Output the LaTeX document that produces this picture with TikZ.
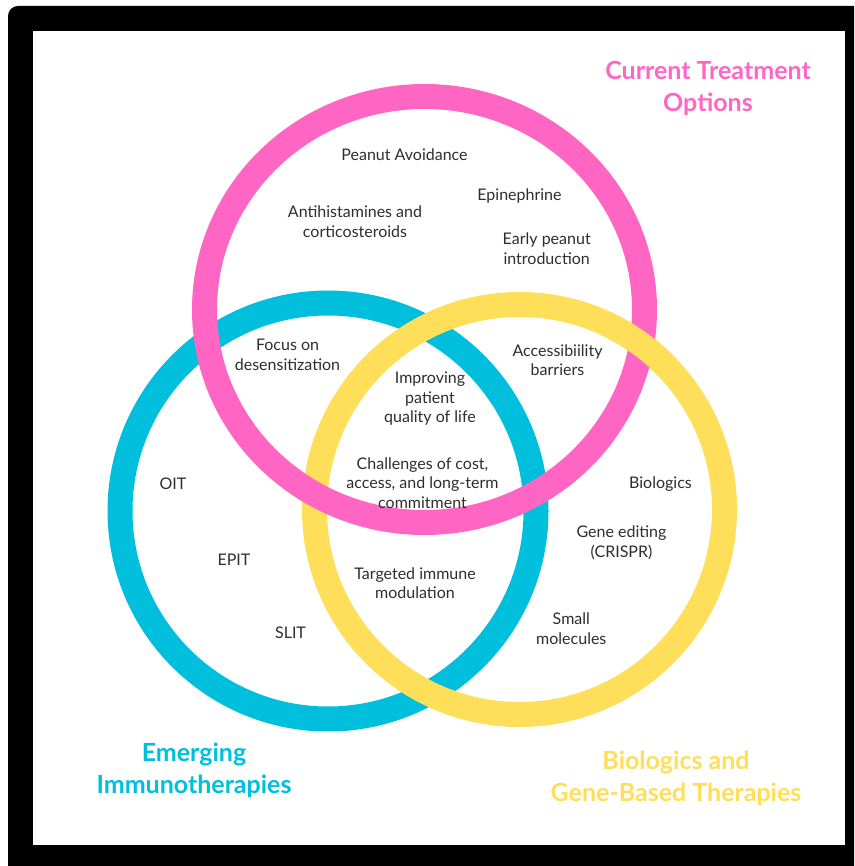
\documentclass[tikz,border=0pt]{standalone}
\usepackage{fontspec}
\setmainfont{Lato}
\definecolor{ringpink}{HTML}{FF66C4}
\definecolor{ringblue}{HTML}{00BFDD}
\definecolor{ringyellow}{HTML}{FFDE59}
\definecolor{bodytext}{HTML}{2E2E2E}
\begin{document}
\begin{tikzpicture}[x=1pt, y=-1pt,
  ring/.style={line width=25pt},
  item/.style={font=\fontsize{16}{19.5}\selectfont, text=bodytext, align=center, inner sep=0pt},
  heading/.style={font=\fontsize{25}{32}\selectfont\bfseries, align=center, inner sep=0pt}]
\useasboundingbox (0,0) rectangle (854,866);
% black frame with white panel
\begin{scope}
  \clip (0,0) rectangle (854,866);
  \fill[black, rounded corners=10pt] (8,6) rectangle (890,900);
\end{scope}
\fill[white] (33,31) rectangle (845,845);

% ring centres
\coordinate (cb) at (328,511);
\coordinate (cy) at (519.5,509.5);
\coordinate (cp) at (424.5,309.5);

% rings, woven over one another
\draw[ring, ringblue] (cb) circle [radius=208];
\draw[ring, ringyellow] (cy) circle [radius=205];
\draw[ring, ringpink] (cp) ellipse [x radius=220, y radius=213];
\begin{scope}
  \clip (643,336) circle [radius=42];
  \draw[ring, ringyellow] (cy) circle [radius=205];
\end{scope}

% current treatment options
\node[item] (avoid) at (404.5,155) {Peanut Avoidance};
\node[item] (epi) at (519.5,196) {Epinephrine};
\node[item] (anti) at (355,221.5) {Antihistamines and\\corticosteroids};
\node[item] (early) at (546.7,248.5) {Early peanut\\introduction};

% overlaps
\node[item] (focus) at (287.5,355) {Focus on\\desensitization};
\node[item] (access) at (557.5,360) {Accessibiility\\barriers};
\node[item] (qol) at (430,399) {Improving\\patient\\quality of life};
\node[item] (cost) at (422.5,483) {Challenges of cost,\\access, and long-term\\commitment};
\node[item] (target) at (415,583) {Targeted immune\\modulation};

% emerging immunotherapies
\node[item] (oit) at (173,484) {OIT};
\node[item] (epit) at (234,560) {EPIT};
\node[item] (slit) at (290.5,633) {SLIT};

% biologics and gene-based therapies
\node[item] (bio) at (660.5,484) {Biologics};
\node[item] (gene) at (621.5,543) {Gene editing\\(CRISPR)};
\node[item] (small) at (571.3,628.5) {Small\\molecules};

% set headings
\node[heading, text=ringpink] (tpink) at (708,88) {Current Treatment\\Options};
\node[heading, text=ringblue] (tblue) at (194,770) {Emerging\\Immunotherapies};
\node[heading, text=ringyellow] (tyellow) at (676,778) {Biologics and\\Gene-Based Therapies};
\end{tikzpicture}
\end{document}
